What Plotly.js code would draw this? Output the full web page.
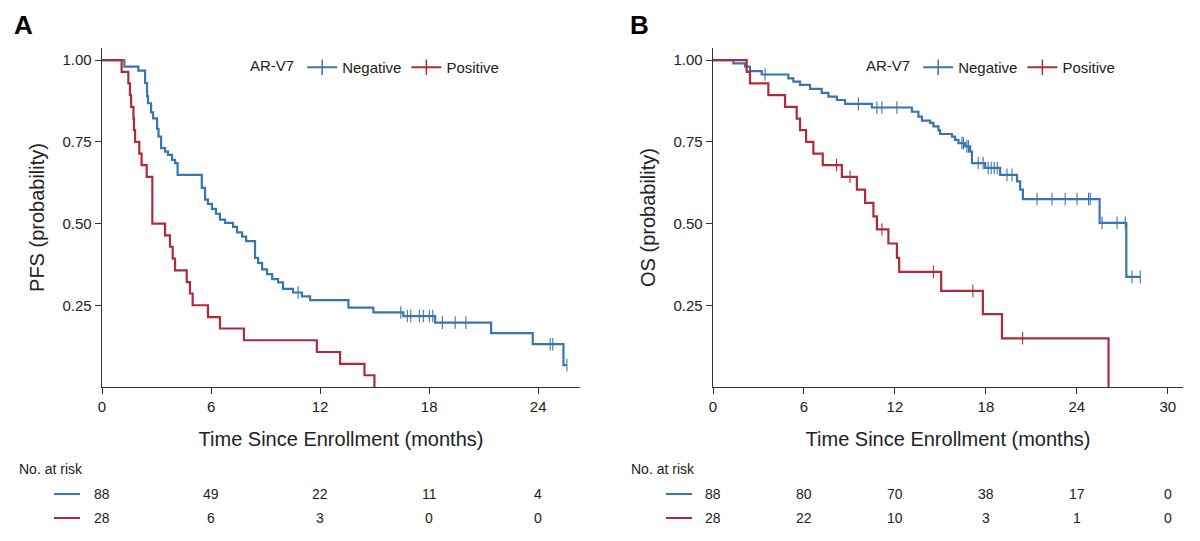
<!DOCTYPE html>
<html>
<head>
<meta charset="utf-8">
<script src="https://cdn.plot.ly/plotly-3.0.1.min.js"></script>
<style>html,body{margin:0;padding:0;background:#fff;}#chart{width:1200px;height:541px;}</style>
</head>
<body>
<div id="chart"></div>
<script>
// ---------- Panel A: PFS ----------
var aNegT = [0, 1.23, 2.0, 2.37, 2.48, 2.53, 2.70, 2.81, 3.03, 3.11, 3.25, 3.47, 3.63, 3.85, 4.02, 4.16, 5.49, 5.67, 5.83, 6.05, 6.27, 6.49, 6.77, 7.21, 7.43, 7.71, 7.93, 8.42, 8.59, 8.81, 9.08, 9.36, 9.69, 9.96, 10.51, 11.0, 11.45, 13.56, 14.93, 16.58, 18.33, 21.41, 23.70, 25.39, 25.58];
var aNegS = [1.0, 0.98, 0.968, 0.93, 0.89, 0.868, 0.84, 0.822, 0.79, 0.766, 0.731, 0.72, 0.71, 0.695, 0.685, 0.649, 0.609, 0.573, 0.56, 0.545, 0.53, 0.512, 0.502, 0.49, 0.473, 0.46, 0.446, 0.395, 0.38, 0.36, 0.345, 0.33, 0.32, 0.30, 0.289, 0.277, 0.266, 0.243, 0.228, 0.217, 0.197, 0.165, 0.131, 0.067, 0.067];
var aNegCensT = [10.79, 16.44, 16.80, 16.99, 17.46, 17.68, 18.01, 18.20, 18.73, 19.43, 20.02, 24.66, 24.80, 25.58];
var aNegCensS = [0.289, 0.228, 0.217, 0.217, 0.217, 0.217, 0.217, 0.217, 0.197, 0.197, 0.197, 0.131, 0.131, 0.067];
var aPosT = [0, 1.08, 1.45, 1.54, 1.60, 1.73, 1.76, 1.82, 2.05, 2.18, 2.46, 2.77, 3.47, 3.74, 3.89, 4.02, 4.66, 4.84, 4.99, 5.83, 6.49, 7.81, 11.82, 13.10, 14.44, 14.99];
var aPosS = [1.0, 0.964, 0.929, 0.893, 0.857, 0.821, 0.786, 0.75, 0.714, 0.679, 0.643, 0.5, 0.464, 0.429, 0.393, 0.357, 0.321, 0.286, 0.25, 0.214, 0.179, 0.143, 0.107, 0.071, 0.036, 0.0];

// ---------- Panel B: OS ----------
var bNegT = [0, 1.34, 2.11, 2.44, 3.21, 4.97, 5.30, 5.74, 6.40, 7.17, 7.61, 8.17, 8.71, 10.48, 13.12, 13.55, 13.78, 14.32, 14.54, 14.87, 14.98, 15.76, 15.97, 16.19, 16.63, 16.96, 17.08, 17.95, 18.94, 20.05, 20.26, 20.44, 25.50, 27.26, 28.18];
var bNegS = [1.0, 0.99, 0.98, 0.966, 0.956, 0.944, 0.934, 0.924, 0.912, 0.90, 0.888, 0.878, 0.866, 0.855, 0.842, 0.827, 0.815, 0.808, 0.797, 0.785, 0.774, 0.766, 0.756, 0.746, 0.736, 0.72, 0.685, 0.67, 0.649, 0.629, 0.604, 0.575, 0.502, 0.337, 0.337];
var bNegCensT = [3.43, 9.59, 10.81, 11.14, 12.13, 16.42, 16.52, 16.75, 16.85, 17.49, 17.82, 18.15, 18.35, 18.55, 18.75, 19.39, 19.72, 21.37, 22.36, 23.23, 24.01, 24.77, 24.88, 25.66, 26.65, 27.19, 27.64, 28.18];
var bNegCensS = [0.956, 0.866, 0.855, 0.855, 0.855, 0.746, 0.746, 0.736, 0.736, 0.685, 0.685, 0.67, 0.67, 0.67, 0.67, 0.649, 0.649, 0.575, 0.575, 0.575, 0.575, 0.575, 0.575, 0.502, 0.502, 0.502, 0.337, 0.337];
var bPosT = [0, 2.22, 2.44, 3.65, 4.75, 5.52, 5.74, 6.14, 6.62, 7.24, 8.50, 9.49, 10.03, 10.58, 10.81, 11.57, 12.13, 12.28, 15.05, 17.80, 19.06, 26.09];
var bPosS = [1.0, 0.964, 0.929, 0.893, 0.857, 0.821, 0.786, 0.75, 0.714, 0.679, 0.643, 0.604, 0.563, 0.522, 0.482, 0.439, 0.395, 0.352, 0.294, 0.223, 0.149, 0.0];
var bPosCensT = [8.15, 9.04, 11.14, 14.54, 17.14, 20.42];
var bPosCensS = [0.679, 0.643, 0.482, 0.352, 0.294, 0.149];

// ---------- Labels / at-risk ----------
var groups = ["Negative", "Positive"];
var legendTitle = "AR-V7";
var aTicks = [0, 6, 12, 18, 24];
var bTicks = [0, 6, 12, 18, 24, 30];
var yTicks = [0.25, 0.5, 0.75, 1.0];
var yTickText = ["0.25", "0.50", "0.75", "1.00"];
var aRiskNeg = [88, 49, 22, 11, 4];
var aRiskPos = [28, 6, 3, 0, 0];
var bRiskNeg = [88, 80, 70, 38, 17, 0];
var bRiskPos = [28, 22, 10, 3, 1, 0];
var xTitle = "Time Since Enrollment (months)";
var aYTitle = "PFS (probability)";
var bYTitle = "OS (probability)";

var BLUE = "#3a76ae";
var RED = "#ae2b3b";
var FONT = "Liberation Sans, Arial, sans-serif";
var TXT = "#222";

function stepTrace(x, y, color, xa, ya) {
  return {x: x, y: y, xaxis: xa, yaxis: ya, mode: "lines", type: "scatter",
    line: {shape: "hv", color: color, width: 2.2}, showlegend: false, hoverinfo: "skip"};
}
function censTrace(x, y, color, xa, ya) {
  return {x: x, y: y, xaxis: xa, yaxis: ya, mode: "markers", type: "scatter",
    marker: {symbol: "line-ns-open", size: 9, color: color, line: {color: color, width: 1.1}},
    showlegend: false, hoverinfo: "skip"};
}
function legTrace(name, color, xa, ya, leg) {
  return {x: [null], y: [null], xaxis: xa, yaxis: ya, mode: "lines+markers", type: "scatter",
    name: name, legend: leg, line: {color: color, width: 2},
    marker: {symbol: "line-ns-open", size: 11, color: color, line: {color: color, width: 1.5}}};
}

var data = [
  stepTrace(aNegT, aNegS, BLUE, "x", "y"),
  censTrace(aNegCensT, aNegCensS, BLUE, "x", "y"),
  stepTrace(aPosT, aPosS, RED, "x", "y"),
  stepTrace(bNegT, bNegS, BLUE, "x2", "y2"),
  censTrace(bNegCensT, bNegCensS, BLUE, "x2", "y2"),
  stepTrace(bPosT, bPosS, RED, "x2", "y2"),
  censTrace(bPosCensT, bPosCensS, RED, "x2", "y2"),
  legTrace(groups[0], BLUE, "x", "y", "legend"),
  legTrace(groups[1], RED, "x", "y", "legend"),
  legTrace(groups[0], BLUE, "x2", "y2", "legend2"),
  legTrace(groups[1], RED, "x2", "y2", "legend2")
];

var W = 1200, H = 541;
var mL = 102, mR = 17, mT = 48, mB = 154;
var pw = W - mL - mR, ph = H - mT - mB;
function fx(px) { return (px - mL) / pw; }
function py(p) { return (H - mB - p) / ph; }

function xAxis(domain, range, ticks, anchor) {
  return {domain: domain, range: range, anchor: anchor, tickvals: ticks, ticktext: ticks.map(String),
    showgrid: false, zeroline: false, showline: true, linecolor: "#333", linewidth: 1.3,
    ticks: "outside", ticklen: 6, tickcolor: "#333", tickfont: {family: FONT, size: 15, color: TXT},
    title: {text: xTitle, font: {family: FONT, size: 20, color: TXT}, standoff: 17}, fixedrange: true};
}
function yAxis(title, anchor) {
  return {domain: [0, 1], range: [0, 1.037], anchor: anchor, tickvals: yTicks, ticktext: yTickText,
    showgrid: false, zeroline: false, showline: true, linecolor: "#333", linewidth: 1.3,
    ticks: "outside", ticklen: 6, tickcolor: "#333", tickfont: {family: FONT, size: 15, color: TXT},
    title: {text: title, font: {family: FONT, size: 20, color: TXT}, standoff: 12}, fixedrange: true};
}

var annotations = [
  {text: "<b>A</b>", xref: "paper", yref: "paper", x: fx(12), y: py(25), xanchor: "left", yanchor: "middle", showarrow: false, font: {family: FONT, size: 26, color: "#000"}},
  {text: "<b>B</b>", xref: "paper", yref: "paper", x: fx(628), y: py(25), xanchor: "left", yanchor: "middle", showarrow: false, font: {family: FONT, size: 26, color: "#000"}},
  {text: "No. at risk", xref: "paper", yref: "paper", x: fx(17), y: py(469), xanchor: "left", yanchor: "middle", showarrow: false, font: {family: FONT, size: 14, color: TXT}},
  {text: "No. at risk", xref: "paper", yref: "paper", x: fx(629), y: py(469), xanchor: "left", yanchor: "middle", showarrow: false, font: {family: FONT, size: 14, color: TXT}}
];
function riskRow(ticks, vals, xref, ypx) {
  for (var i = 0; i < ticks.length; i++) {
    annotations.push({text: String(vals[i]), xref: xref, yref: "paper", x: ticks[i], y: py(ypx),
      xanchor: "center", yanchor: "middle", showarrow: false, font: {family: FONT, size: 14, color: TXT}});
  }
}
riskRow(aTicks, aRiskNeg, "x", 494);
riskRow(aTicks, aRiskPos, "x", 518);
riskRow(bTicks, bRiskNeg, "x2", 494);
riskRow(bTicks, bRiskPos, "x2", 518);

var shapes = [
  {type: "line", xref: "paper", yref: "paper", x0: fx(54), x1: fx(80), y0: py(494), y1: py(494), line: {color: BLUE, width: 2}},
  {type: "line", xref: "paper", yref: "paper", x0: fx(54), x1: fx(80), y0: py(518), y1: py(518), line: {color: RED, width: 2}},
  {type: "line", xref: "paper", yref: "paper", x0: fx(666), x1: fx(692), y0: py(494), y1: py(494), line: {color: BLUE, width: 2}},
  {type: "line", xref: "paper", yref: "paper", x0: fx(666), x1: fx(692), y0: py(518), y1: py(518), line: {color: RED, width: 2}}
];

function legendCfg(xpx) {
  return {title: {text: legendTitle, side: "left", font: {family: FONT, size: 15, color: TXT}},
    orientation: "h", x: fx(xpx), xanchor: "left", y: py(51), yanchor: "top",
    font: {family: FONT, size: 15, color: TXT}, bgcolor: "rgba(0,0,0,0)", borderwidth: 0,
    itemwidth: 30, traceorder: "normal"};
}

var layout = {
  width: W, height: H,
  margin: {l: mL, r: mR, t: mT, b: mB},
  paper_bgcolor: "#fff", plot_bgcolor: "#fff",
  font: {family: FONT, color: TXT},
  xaxis: xAxis([0, fx(580)], [0, 26.3], aTicks, "y"),
  yaxis: yAxis(aYTitle, "x"),
  xaxis2: xAxis([fx(713), 1], [0, 31.0], bTicks, "y2"),
  yaxis2: yAxis(bYTitle, "x2"),
  legend: legendCfg(248),
  legend2: legendCfg(864),
  annotations: annotations,
  shapes: shapes
};

Plotly.newPlot("chart", data, layout, {displayModeBar: false, staticPlot: true});
</script>
</body>
</html>
